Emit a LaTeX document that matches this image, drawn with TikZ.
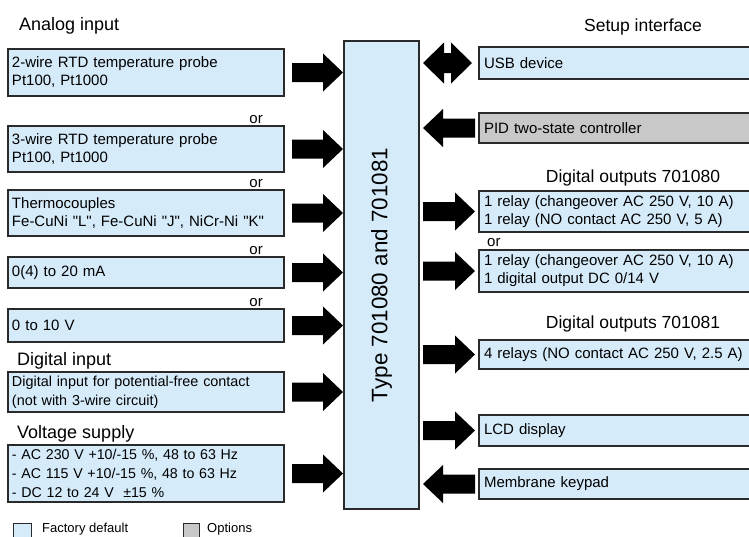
\documentclass[tikz,border=0pt]{standalone}
\usepackage{fontspec}
\setmainfont{Liberation Sans}[Ligatures=TeXOff]
\usetikzlibrary{calc}
\definecolor{lblue}{HTML}{D6EBFA}
\definecolor{optgrey}{HTML}{C8C8C8}
\definecolor{edge}{HTML}{2A2A2A}
\newcommand\myfs[2]{\fontsize{#1}{#2}\selectfont}
% fat one-headed arrow from tail #1 to tip #2
\newcommand\fatarrow[2]{%
  \coordinate (fa-t) at (#1);
  \coordinate (fa-p) at (#2);
  \coordinate (fa-c) at ($(fa-p)!20pt!(fa-t)$);
  \fill ($(fa-t)!9.5pt!90:(fa-p)$) -- ($(fa-c)!9.5pt!-90:(fa-t)$) -- ($(fa-c)!19pt!-90:(fa-t)$)
    -- (fa-p) -- ($(fa-c)!19pt!90:(fa-t)$) -- ($(fa-c)!9.5pt!90:(fa-t)$)
    -- ($(fa-t)!9.5pt!-90:(fa-p)$) -- cycle;}
% fat two-headed arrow between #1 and #2
\newcommand\fatdouble[2]{%
  \coordinate (fd-a) at (#1);
  \coordinate (fd-b) at (#2);
  \coordinate (fd-c1) at ($(fd-a)!21pt!(fd-b)$);
  \coordinate (fd-c2) at ($(fd-b)!21pt!(fd-a)$);
  \fill (fd-a) -- ($(fd-c1)!20.5pt!90:(fd-b)$) -- ($(fd-c1)!10pt!90:(fd-b)$)
    -- ($(fd-c2)!10pt!-90:(fd-a)$) -- ($(fd-c2)!20.5pt!-90:(fd-a)$) -- (fd-b)
    -- ($(fd-c2)!20.5pt!90:(fd-a)$) -- ($(fd-c2)!10pt!90:(fd-a)$)
    -- ($(fd-c1)!10pt!-90:(fd-b)$) -- ($(fd-c1)!20.5pt!-90:(fd-b)$) -- cycle;}
\begin{document}
\begin{tikzpicture}[x=1pt,y=-1pt,
  box/.style={draw=edge, line width=1.2pt, fill=lblue, outer sep=0pt, inner xsep=4pt,
    inner ysep=0pt, anchor=north west, align=left, font=\myfs{15}{18}},
  lbox/.style={box, text width=268pt},
  rbox/.style={box, inner xsep=5pt, text width=280pt},
  head/.style={inner sep=0pt, font=\myfs{18}{20}},
  rhead/.style={inner sep=0pt, font=\myfs{17.5}{20}, anchor=base},
  ortext/.style={inner sep=0pt, font=\myfs{15}{18}},
  legend/.style={inner sep=0pt, font=\myfs{13}{15}, anchor=base west}]
\useasboundingbox (0,0) rectangle (749,536);
\clip (0,0) rectangle (749,536);

% left column
\node[head, anchor=base west] (hana) at (19,30) {Analog input};
\node[lbox, minimum height=47pt] (in1) at (8,49) {2-wire RTD temperature probe\\Pt100, Pt1000};
\node[ortext, anchor=base east] (or1) at (263,123) {or};
\node[lbox, minimum height=46pt] (in2) at (8,126) {3-wire RTD temperature probe\\Pt100, Pt1000};
\node[ortext, anchor=base east] (or2) at (263,187) {or};
\node[lbox, minimum height=46pt] (in3) at (8,190) {Thermocouples\\Fe-CuNi "L", Fe-CuNi "J", NiCr-Ni "K"};
\node[ortext, anchor=base east] (or3) at (263,254) {or};
\node[lbox, minimum height=31pt] (in4) at (8,257) {0(4) to 20 mA};
\node[ortext, anchor=base east] (or4) at (263,306) {or};
\node[lbox, minimum height=33pt] (in5) at (8,309) {0 to 10 V};
\node[head, anchor=base west] (hdig) at (17,365) {Digital input};
\node[lbox, minimum height=40pt, font=\myfs{14.4}{19}] (in6) at (8,372) {Digital input for potential-free contact\\(not with 3-wire circuit)};
\node[head, anchor=base west] (hvol) at (17,438) {Voltage supply};
\node[lbox, minimum height=57pt, font=\myfs{14.2}{19}] (in7) at (8,445) {- AC 230 V +10/-15 \%, 48 to 63 Hz\\- AC 115 V +10/-15 \%, 48 to 63 Hz\\- DC 12 to 24 V\ \ ±15 \%};

% central unit
\node[draw=edge, line width=1.2pt, fill=lblue, outer sep=0pt, inner sep=0pt,
  minimum width=75pt, minimum height=468pt, anchor=north west,
  font=\myfs{22.4}{24}] (main) at (344,41) {\rotatebox{90}{Type 701080 and 701081}};

% right column
\node[rhead] (hset) at (643,31) {Setup interface};
\node[rbox, minimum height=32pt] (usb) at (479,47) {USB device};
\node[rbox, minimum height=30pt, fill=optgrey] (pid) at (479,113) {PID two-state controller};
\node[rhead] (hdo0) at (633,182) {Digital outputs 701080};
\node[rbox, minimum height=41pt] (do1) at (479,191) {1 relay (changeover AC 250 V, 10 A)\\1 relay (NO contact AC 250 V, 5 A)};
\node[ortext, anchor=base west] (or5) at (487,246) {or};
\node[rbox, minimum height=42pt] (do2) at (479,250) {1 relay (changeover AC 250 V, 10 A)\\1 digital output DC 0/14 V};
\node[rhead] (hdo1) at (633,328) {Digital outputs 701081};
\node[rbox, minimum height=29pt] (do3) at (479,340) {4 relays (NO contact AC 250 V, 2.5 A)};
\node[rbox, minimum height=31pt] (lcd) at (479,415) {LCD display};
\node[rbox, minimum height=30pt] (key) at (479,469) {Membrane keypad};

% arrows into the unit
\foreach \b in {in1,in2,in3,in4,in5,in6,in7}{
  \fatarrow{$(\b.east)+(8,0)$}{$(main.west |- \b.east)+(-1,0)$}
}
% arrows out of the unit
\foreach \b in {do1,do2,do3,lcd}{
  \fatarrow{$(main.east |- \b.west)+(4,0)$}{$(\b.west)+(-4,0)$}
}
% arrows into the unit from the right
\foreach \b in {pid,key}{
  \fatarrow{$(\b.west)+(-4,0)$}{$(main.east |- \b.west)+(4,0)$}
}
\fatdouble{$(main.east |- usb.west)+(4,0)$}{$(usb.west)+(-7,0)$}

% legend
\node[draw=edge, line width=1pt, fill=lblue, minimum size=18pt, inner sep=0pt, anchor=north west] (lgb) at (13,523) {};
\node[legend] (lgbt) at (42,532.5) {Factory default};
\node[draw=edge, line width=1pt, fill=optgrey, minimum size=16pt, inner sep=0pt, anchor=north west] (lgg) at (183,523) {};
\node[legend] (lggt) at (207,532.5) {Options};
\end{tikzpicture}
\end{document}
